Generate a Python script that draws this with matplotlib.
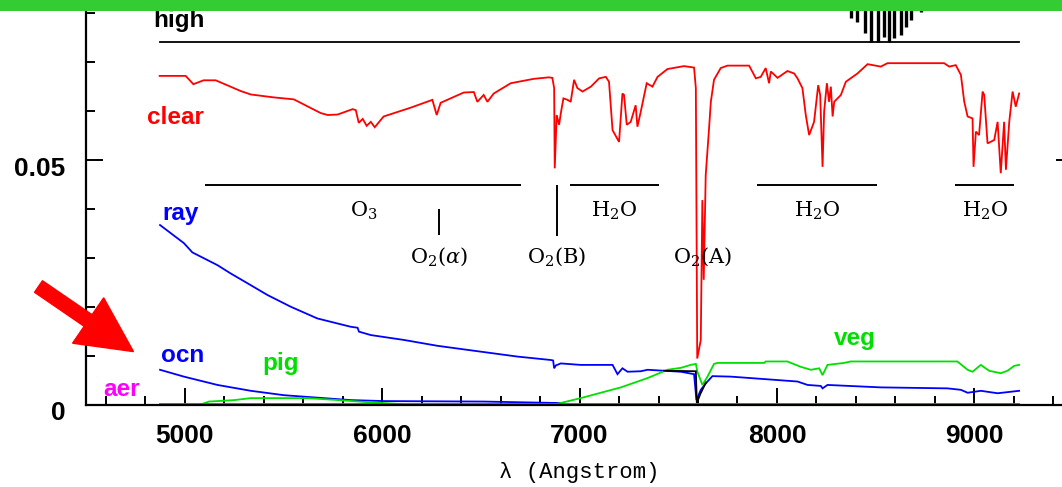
"""Clear-sky / Rayleigh / ocean / vegetation spectra vs wavelength (cropped screenshot look)."""
import matplotlib
matplotlib.use("Agg")
import matplotlib.pyplot as plt
import matplotlib.transforms as mtransforms
from matplotlib.patches import Rectangle, FancyArrow

plt.rcParams["mathtext.fontset"] = "dejavuserif"

# ---- data: (wavelength [A], value) ----
clear_pts = [
    (4872, 0.0672), (5004, 0.0672), (5043, 0.0655), (5095, 0.0663), (5156, 0.0663),
    (5283, 0.0641), (5334, 0.0634), (5451, 0.0628), (5552, 0.0624), (5688, 0.0596),
    (5724, 0.0592), (5774, 0.0593), (5850, 0.0604), (5866, 0.0602), (5881, 0.0576),
    (5901, 0.0584), (5921, 0.0570), (5942, 0.0578), (5962, 0.0567), (6007, 0.0589),
    (6144, 0.0607), (6254, 0.0623), (6276, 0.0592), (6296, 0.0617), (6413, 0.0638),
    (6464, 0.0639), (6482, 0.0619), (6514, 0.0633), (6533, 0.0619), (6565, 0.0636),
    (6651, 0.0657), (6768, 0.0666), (6844, 0.0669), (6862, 0.0668), (6871, 0.0647),
    (6874, 0.0483), (6884, 0.0592), (6896, 0.0572), (6905, 0.0596), (6918, 0.0626),
    (6939, 0.0623), (6955, 0.0619), (6972, 0.0664), (6989, 0.0647), (7015, 0.0640),
    (7057, 0.0650), (7099, 0.0667), (7133, 0.0670), (7149, 0.0660), (7167, 0.0561),
    (7200, 0.0537), (7217, 0.0636), (7225, 0.0633), (7239, 0.0572), (7259, 0.0578),
    (7284, 0.0612), (7293, 0.0568), (7310, 0.0599), (7340, 0.0657), (7369, 0.0650),
    (7395, 0.0670), (7445, 0.0686), (7529, 0.0692), (7580, 0.0689), (7589, 0.0647),
    (7596, 0.0094), (7614, 0.0132), (7622, 0.0418), (7629, 0.0255), (7639, 0.0469),
    (7656, 0.0565), (7665, 0.0619), (7681, 0.0664), (7715, 0.0688), (7749, 0.0693),
    (7859, 0.0693), (7893, 0.0667), (7918, 0.0670), (7943, 0.0688), (7960, 0.0657),
    (7969, 0.0681), (8003, 0.0668), (8053, 0.0682), (8087, 0.0677), (8104, 0.0667),
    (8129, 0.0647), (8146, 0.0592), (8163, 0.0551), (8188, 0.0578), (8209, 0.0653),
    (8219, 0.0633), (8231, 0.0486), (8239, 0.0599), (8253, 0.0657), (8264, 0.0619),
    (8273, 0.0650), (8282, 0.0589), (8290, 0.0619), (8324, 0.0633), (8349, 0.0660),
    (8408, 0.0677), (8459, 0.0696), (8526, 0.0691), (8560, 0.0698), (8847, 0.0698),
    (8873, 0.0691), (8906, 0.0694), (8932, 0.0674), (8949, 0.0619), (8966, 0.0589),
    (8991, 0.0585), (8996, 0.0486), (9008, 0.0558), (9024, 0.0551), (9042, 0.0640),
    (9050, 0.0633), (9067, 0.0534), (9101, 0.0541), (9118, 0.0578), (9134, 0.0473),
    (9151, 0.0578), (9160, 0.0480), (9177, 0.0578), (9194, 0.0640), (9210, 0.0609),
    (9227, 0.0636),
]
ray_pts = [
    (4874, 0.0367), (4995, 0.0330), (5038, 0.0311), (5165, 0.0285), (5232, 0.0268),
    (5317, 0.0248), (5418, 0.0224), (5536, 0.0200), (5671, 0.0176), (5840, 0.0159),
    (5875, 0.0157), (5882, 0.0149), (5942, 0.0142), (6110, 0.0132), (6280, 0.0120),
    (6482, 0.0109), (6685, 0.0098), (6854, 0.0091), (6866, 0.0090), (6871, 0.0074),
    (6880, 0.0080), (6905, 0.0084), (7005, 0.0081), (7167, 0.0081), (7192, 0.0062),
    (7217, 0.0074), (7243, 0.0067), (7310, 0.0068), (7344, 0.0071), (7513, 0.0067),
    (7580, 0.0062), (7592, 0.0009), (7614, 0.0030), (7639, 0.0043), (7673, 0.0058),
    (7766, 0.0057), (7935, 0.0052), (8104, 0.0047), (8155, 0.0040), (8222, 0.0038),
    (8231, 0.0033), (8256, 0.0040), (8526, 0.0035), (8864, 0.0033), (8932, 0.0030),
    (8966, 0.0024), (9033, 0.0028), (9118, 0.0023), (9227, 0.0028),
]
ocn_pts = [
    (4874, 0.0071), (4995, 0.0057), (5165, 0.0040), (5334, 0.0028), (5503, 0.0019),
    (5671, 0.0014), (5840, 0.0009), (6009, 0.0007), (6516, 0.0006), (6900, 0.0003),
]
pig_pts = [
    (5080, 0.0), (5122, 0.0006), (5250, 0.0009), (5334, 0.0013), (5622, 0.0013),
    (5780, 0.0009), (5950, 0.0004), (6100, 0.0001),
]
veg_pts = [
    (6873, 0.0), (7005, 0.0013), (7209, 0.0035), (7344, 0.0054), (7445, 0.0071),
    (7513, 0.0075), (7563, 0.0081), (7589, 0.0083), (7597, 0.0067), (7622, 0.0040),
    (7648, 0.0057), (7681, 0.0083), (7698, 0.0085), (7935, 0.0085), (7943, 0.0088),
    (8053, 0.0088), (8121, 0.0077), (8172, 0.0071), (8214, 0.0074), (8231, 0.0060),
    (8256, 0.0081), (8340, 0.0085), (8374, 0.0088), (8914, 0.0088), (8966, 0.0071),
    (8991, 0.0067), (9033, 0.0081), (9075, 0.0069), (9134, 0.0064), (9168, 0.0069),
    (9202, 0.0079), (9227, 0.0081),
]
blk_pts = [(7428, 0.0069), (7589, 0.0068), (7594, 0.0003), (7612, 0.0022), (7640, 0.0045)]
aer_pts = [(4872, 0.0002), (9227, 0.0002)]
high_pts = [(4872, 0.0741), (9227, 0.0741)]

# the comb of lines hanging down from above the frame
comb_wl = [8374, 8408, 8447, 8476, 8510, 8543, 8568, 8594, 8628, 8653, 8678, 8729]
comb_low = [0.0790, 0.0782, 0.0760, 0.0742, 0.0742, 0.0752, 0.0742, 0.0750,
            0.0756, 0.0772, 0.0786, 0.0803]
comb_top = 0.095

# absorption band markers
band_names = ["O$_3$", "H$_2$O", "H$_2$O", "H$_2$O"]
band_lo = [5100, 6950, 7901, 8902]
band_hi = [6705, 7403, 8507, 9203]
band_y = 0.0449
line_names = ["O$_2$($\\alpha$)", "O$_2$(B)", "O$_2$(A)"]
line_wl = [6289, 6884, 7624]

RED, BLUE, GREEN, MAG = "#ff0000", "#0000ff", "#00e000", "#ff00ff"


def unzip(pts):
    return [p[0] for p in pts], [p[1] for p in pts]


W, H = 1062, 487
fig = plt.figure(figsize=(W / 100, H / 100), dpi=100)
# frame is cropped: top and right spines sit outside the picture
x0, x1, y0 = 86.2, 1073.0, 404.5
ymax = 0.085
ax = fig.add_axes([x0 / W, (H - y0) / H, (x1 - x0) / W, ymax * 4890 / H])
ax.set_xlim(4500, 9500)
ax.set_ylim(0, ymax)

lw = 1.3
for pts, col in [(high_pts, "black"), (clear_pts, RED), (ray_pts, BLUE), (ocn_pts, BLUE),
                 (pig_pts, GREEN), (veg_pts, GREEN), (blk_pts, "black"), (aer_pts, MAG)]:
    xs, ys = unzip(pts)
    ax.plot(xs, ys, color=col, lw=lw, solid_joinstyle="miter")
ax.vlines(comb_wl, comb_low, comb_top, color="black", lw=2.4)

# band annotations
serif = dict(family="DejaVu Serif", fontsize=15, color="black")
ax.hlines([band_y] * len(band_lo), band_lo, band_hi, color="black", lw=1.4)
for name, lo, hi in zip(band_names, band_lo, band_hi):
    ax.text((lo + hi) / 2 if name != "O$_3$" else 5904, 0.0385, name, ha="center",
            va="baseline", **serif)
ax.vlines([line_wl[0]], 0.0347, 0.0399, color="black", lw=1.4)
ax.vlines([line_wl[1]], 0.0345, 0.0449, color="black", lw=1.4)
for name, wl in zip(line_names, line_wl):
    ax.text(wl, 0.0291, name, ha="center", va="baseline", **serif)

# curve labels
sans = dict(family="Liberation Sans", fontsize=17.5, fontweight="bold", va="baseline")
ax.text(4842, 0.0772, "high", color="black", clip_on=False, **sans)
ax.text(4806, 0.0573, "clear", color=RED, **sans)
ax.text(4887, 0.0377, "ray", color=BLUE, **sans)
ax.text(4880, 0.00875, "ocn", color=BLUE, **sans)
ax.text(4588, 0.0018, "aer", color=MAG, **sans)
ax.text(5394, 0.0071, "pig", color=GREEN, **sans)
ax.text(8290, 0.0122, "veg", color=GREEN, **sans)

# axes styling
ax.set_xticks(range(5000, 10000, 1000))
ax.set_xticks(range(4600, 9600, 200), minor=True)
ax.set_yticks([0, 0.05])
ax.set_yticklabels(["0", "0.05"])
ax.set_yticks([0.01 * i for i in range(1, 9)], minor=True)
ax.tick_params(which="both", direction="in", width=1.4, top=False, right=True, colors="black")
ax.tick_params(which="major", length=12, pad=14)
ax.tick_params(which="minor", length=6.5)
ax.tick_params(axis="y", which="major", pad=15)
for lab in ax.get_xticklabels() + ax.get_yticklabels():
    lab.set_fontfamily("Liberation Sans")
    lab.set_fontweight("bold")
    lab.set_fontsize(19)
off = mtransforms.ScaledTranslation(0, -0.06, fig.dpi_scale_trans)
for lab in ax.get_yticklabels():
    lab.set_transform(lab.get_transform() + off)
for s in ax.spines.values():
    s.set_linewidth(1.6)

ax.set_xlabel("\u03bb (Angstrom)", family="Liberation Mono", fontsize=16)
ax.xaxis.set_label_coords(0.5, -0.138)

# green strip across the top edge of the screenshot
fig.add_artist(Rectangle((0, 1 - 11 / H), 1, 11 / H, transform=fig.transFigure,
                         facecolor="#33cc33", edgecolor="none", zorder=10))
# red pointer arrow (pixel coordinates)
fig.add_artist(FancyArrow(38.5, H - 286.5, 95, -65.1, width=14, head_width=55,
                          head_length=55, length_includes_head=True,
                          color="#ff0000", transform=mtransforms.IdentityTransform(),
                          zorder=10))

fig.savefig("out.png", dpi=100)
